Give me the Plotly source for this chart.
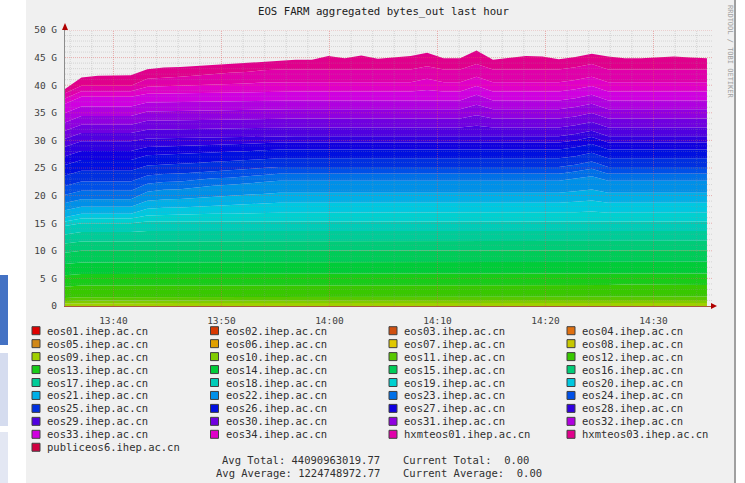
import pandas as pd
import plotly.graph_objects as go

# ---------------- data ----------------
SERIES_NAMES = [
    "eos01.ihep.ac.cn", "eos02.ihep.ac.cn", "eos03.ihep.ac.cn", "eos04.ihep.ac.cn",
    "eos05.ihep.ac.cn", "eos06.ihep.ac.cn", "eos07.ihep.ac.cn", "eos08.ihep.ac.cn",
    "eos09.ihep.ac.cn", "eos10.ihep.ac.cn", "eos11.ihep.ac.cn", "eos12.ihep.ac.cn",
    "eos13.ihep.ac.cn", "eos14.ihep.ac.cn", "eos15.ihep.ac.cn", "eos16.ihep.ac.cn",
    "eos17.ihep.ac.cn", "eos18.ihep.ac.cn", "eos19.ihep.ac.cn", "eos20.ihep.ac.cn",
    "eos21.ihep.ac.cn", "eos22.ihep.ac.cn", "eos23.ihep.ac.cn", "eos24.ihep.ac.cn",
    "eos25.ihep.ac.cn", "eos26.ihep.ac.cn", "eos27.ihep.ac.cn", "eos28.ihep.ac.cn",
    "eos29.ihep.ac.cn", "eos30.ihep.ac.cn", "eos31.ihep.ac.cn", "eos32.ihep.ac.cn",
    "eos33.ihep.ac.cn", "eos34.ihep.ac.cn", "hxmteos01.ihep.ac.cn", "hxmteos03.ihep.ac.cn",
    "publiceos6.ihep.ac.cn",
]

TIME_START = "2017-06-01 13:35:31"
TIME_END = "2017-06-01 14:34:57"
N_POINTS = 40
X_RANGE = ["2017-06-01 13:35:31", "2017-06-01 14:35:25"]
X_TICK_VALS = ["2017-06-01 13:40", "2017-06-01 13:50", "2017-06-01 14:00",
               "2017-06-01 14:10", "2017-06-01 14:20", "2017-06-01 14:30"]
X_TICK_TEXT = ["13:40", "13:50", "14:00", "14:10", "14:20", "14:30"]
Y_TICK_VALS = [0, 5, 10, 15, 20, 25, 30, 35, 40, 45, 50]
Y_TICK_TEXT = ["0", "5 G", "10 G", "15 G", "20 G", "25 G", "30 G", "35 G", "40 G", "45 G", "50 G"]

# values in G (bytes_out per host), 40 samples
ZERO = [0, 0, 0, 0, 0, 0, 0, 0, 0, 0, 0, 0, 0, 0, 0, 0, 0, 0, 0, 0,
        0, 0, 0, 0, 0, 0, 0, 0, 0, 0, 0, 0, 0, 0, 0, 0, 0, 0, 0, 0]
eos09 = [0.45, 0.5, 0.5, 0.5, 0.5, 0.55, 0.55, 0.55, 0.55, 0.55, 0.55, 0.55, 0.55,
         0.55, 0.55, 0.55, 0.55, 0.55, 0.55, 0.55, 0.55, 0.55, 0.55, 0.55, 0.55, 0.55, 0.55,
         0.55, 0.55, 0.55, 0.55, 0.55, 0.55, 0.55, 0.55, 0.55, 0.55, 0.55, 0.55, 0.55]
eos10 = [0.45, 0.5, 0.5, 0.5, 0.5, 0.55, 0.55, 0.55, 0.55, 0.55, 0.55, 0.55, 0.55,
         0.55, 0.55, 0.55, 0.55, 0.55, 0.55, 0.55, 0.55, 0.55, 0.55, 0.55, 0.55, 0.55, 0.55,
         0.55, 0.55, 0.55, 0.55, 0.55, 0.55, 0.55, 0.55, 0.55, 0.55, 0.55, 0.55, 0.55]
eos11 = [0.55, 0.6, 0.6, 0.6, 0.6, 0.6, 0.6, 0.6, 0.6, 0.6, 0.6, 0.6, 0.6,
         0.6, 0.6, 0.6, 0.6, 0.6, 0.6, 0.6, 0.6, 0.6, 0.6, 0.6, 0.6, 0.6, 0.6,
         0.6, 0.6, 0.6, 0.6, 0.6, 0.6, 0.6, 0.6, 0.6, 0.6, 0.6, 0.6, 0.6]
eos12 = [2.05, 2.1, 2.1, 2.1, 2.1, 2.1, 2.1, 2.1, 2.1, 2.1, 2.1, 2.1, 2.1,
         2.1, 2.1, 2.1, 2.1, 2.1, 2.1, 2.1, 2.1, 2.1, 2.1, 2.1, 2.1, 2.1, 2.1,
         2.1, 2.1, 2.1, 2.1, 2.1, 2.1, 2.1, 2.2, 2.2, 2.2, 2.2, 2.1, 2.1]
eos13 = [2.05, 2.1, 2.1, 2.1, 2.1, 2.1, 2.1, 2.1, 2.1, 2.1, 2.1, 2.1, 2.1,
         2.1, 2.1, 2.1, 2.1, 2.1, 2.1, 2.1, 2.1, 2.1, 2.1, 2.1, 2.1, 2.1, 2.1,
         2.1, 2.1, 2.1, 2.1, 2.1, 2.1, 2.1, 2.0, 2.0, 2.0, 2.0, 2.1, 2.1]
eos14 = [2.05, 2.1, 2.1, 2.1, 2.1, 2.1, 2.1, 2.1, 2.1, 2.1, 2.1, 2.1, 2.1,
         2.1, 2.1, 2.1, 2.1, 2.1, 2.1, 2.1, 2.1, 2.1, 2.1, 2.1, 2.1, 2.1, 2.1,
         2.1, 2.1, 2.1, 2.1, 2.1, 2.1, 2.1, 2.1, 2.1, 2.1, 2.1, 2.1, 2.1]
eos15 = [2.05, 2.1, 2.1, 2.1, 2.1, 2.1, 2.1, 2.1, 2.1, 2.1, 2.1, 2.1, 2.1,
         2.1, 2.1, 2.1, 2.1, 2.1, 2.1, 2.1, 2.1, 2.1, 2.1, 2.1, 2.1, 2.1, 2.1,
         2.1, 2.1, 2.1, 2.1, 2.1, 2.1, 2.1, 2.1, 2.1, 2.1, 2.1, 2.1, 2.1]
eos16 = [1.65, 1.7, 1.7, 1.7, 1.7, 1.7, 1.7, 1.7, 1.7, 1.7, 1.7, 1.7, 1.7,
         1.7, 1.7, 1.7, 1.7, 1.7, 1.7, 1.7, 1.7, 1.7, 1.7, 1.7, 1.7, 1.7, 1.7,
         1.6, 1.6, 1.6, 1.6, 1.7, 1.7, 1.7, 1.7, 1.7, 1.7, 1.7, 1.7, 1.7]
eos17 = [1.65, 1.7, 1.7, 1.7, 1.7, 1.8, 1.8, 1.8, 1.8, 1.8, 1.8, 1.8, 1.8,
         1.8, 1.8, 1.8, 1.8, 1.8, 1.8, 1.8, 1.8, 1.8, 1.8, 1.8, 1.8, 1.8, 1.8,
         1.9, 1.9, 1.9, 1.9, 1.8, 1.8, 1.8, 1.8, 1.8, 1.8, 1.8, 1.8, 1.8]
eos18 = [1.55, 1.6, 1.6, 1.6, 1.6, 1.7, 1.7, 1.7, 1.7, 1.7, 1.7, 1.7, 1.7,
         1.7, 1.7, 1.7, 1.7, 1.7, 1.7, 1.7, 1.7, 1.7, 1.7, 1.7, 1.7, 1.7, 1.7,
         1.7, 1.7, 1.7, 1.7, 1.7, 1.7, 1.7, 1.7, 1.7, 1.7, 1.7, 1.7, 1.7]
eos19 = [0.8, 0.85, 0.85, 0.85, 0.85, 1.1, 1.2, 1.25, 1.3, 1.4, 1.4, 1.5, 1.55,
         1.6, 1.6, 1.6, 1.6, 1.6, 1.6, 1.6, 1.6, 1.6, 1.6, 1.6, 1.6, 1.6, 1.6,
         1.6, 1.6, 1.6, 1.6, 1.7, 1.8, 1.6, 1.6, 1.6, 1.6, 1.6, 1.6, 1.6]
eos20 = [0.8, 0.85, 0.85, 0.85, 0.85, 1.2, 1.3, 1.3, 1.4, 1.5, 1.55, 1.65, 1.7,
         1.8, 1.8, 1.8, 1.8, 1.8, 1.8, 1.8, 1.8, 1.8, 1.8, 1.8, 1.8, 1.8, 1.8,
         1.8, 1.8, 1.8, 1.8, 1.9, 2.0, 1.8, 1.8, 1.8, 1.8, 1.8, 1.8, 1.8]
eos21 = [1.25, 1.3, 1.3, 1.3, 1.3, 1.45, 1.5, 1.55, 1.6, 1.65, 1.7, 1.7, 1.75,
         1.8, 1.8, 1.8, 1.8, 1.8, 1.8, 1.8, 1.8, 1.8, 1.8, 1.8, 1.8, 1.8, 1.8,
         1.8, 1.8, 1.8, 1.8, 1.9, 2.0, 1.8, 1.8, 1.8, 1.8, 1.8, 1.8, 1.8]
eos22 = [1.3, 1.35, 1.35, 1.35, 1.35, 1.65, 1.75, 1.75, 1.85, 1.95, 2.0, 2.05, 2.1,
         2.2, 2.2, 2.2, 2.2, 2.2, 2.2, 2.2, 2.2, 2.2, 2.2, 2.2, 2.2, 2.2, 2.2,
         2.2, 2.2, 2.2, 2.2, 2.3, 2.4, 2.2, 2.2, 2.2, 2.2, 2.2, 2.2, 2.2]
eos23 = [1.5, 1.55, 1.55, 1.55, 1.55, 1.45, 1.4, 1.4, 1.35, 1.35, 1.3, 1.3, 1.3,
         1.25, 1.25, 1.25, 1.25, 1.25, 1.25, 1.25, 1.25, 1.25, 1.25, 1.25, 1.25, 1.25, 1.25,
         1.25, 1.25, 1.25, 1.25, 1.25, 1.35, 1.25, 1.25, 1.25, 1.25, 1.25, 1.25, 1.25]
eos24 = [1.6, 1.65, 1.65, 1.65, 1.65, 1.5, 1.45, 1.45, 1.4, 1.35, 1.35, 1.3, 1.3,
         1.25, 1.25, 1.25, 1.25, 1.25, 1.25, 1.25, 1.25, 1.25, 1.25, 1.25, 1.25, 1.25, 1.25,
         1.25, 1.25, 1.25, 1.25, 1.25, 1.35, 1.25, 1.25, 1.25, 1.25, 1.25, 1.25, 1.25]
eos25 = [1.9, 1.95, 1.95, 1.95, 1.95, 1.8, 1.75, 1.75, 1.7, 1.65, 1.65, 1.6, 1.6,
         1.55, 1.55, 1.55, 1.55, 1.65, 1.65, 1.65, 1.65, 1.55, 1.55, 1.55, 1.55, 1.55, 1.55,
         1.55, 1.55, 1.55, 1.55, 1.55, 1.55, 1.55, 1.55, 1.55, 1.55, 1.55, 1.55, 1.55]
eos26 = [1.9, 1.95, 1.95, 1.95, 1.95, 1.85, 1.8, 1.8, 1.75, 1.7, 1.7, 1.65, 1.65,
         1.6, 1.6, 1.6, 1.6, 1.5, 1.5, 1.5, 1.5, 1.6, 1.6, 1.6, 1.6, 1.6, 1.6,
         1.6, 1.6, 1.6, 1.6, 1.6, 1.6, 1.6, 1.6, 1.6, 1.6, 1.6, 1.6, 1.6]
eos27 = [1.6, 1.65, 1.65, 1.65, 1.65, 1.5, 1.45, 1.45, 1.4, 1.35, 1.35, 1.3, 1.3,
         1.25, 1.25, 1.25, 1.25, 1.25, 1.25, 1.25, 1.25, 1.25, 1.25, 1.25, 1.25, 1.25, 1.25,
         1.25, 1.25, 1.25, 1.25, 1.25, 1.25, 1.25, 1.25, 1.25, 1.25, 1.25, 1.25, 1.25]
eos28 = [1.7, 1.75, 1.75, 1.75, 1.75, 1.55, 1.5, 1.45, 1.4, 1.35, 1.3, 1.25, 1.2,
         1.15, 1.15, 1.15, 1.15, 1.15, 1.15, 1.15, 1.15, 1.15, 1.15, 1.15, 1.15, 1.15, 1.15,
         1.15, 1.15, 1.15, 1.15, 1.15, 1.15, 1.15, 1.15, 1.15, 1.15, 1.15, 1.15, 1.15]
eos29 = [1.45, 1.5, 1.5, 1.5, 1.5, 1.6, 1.6, 1.6, 1.6, 1.6, 1.6, 1.6, 1.6,
         1.6, 1.6, 1.6, 1.6, 1.6, 1.6, 1.6, 1.6, 1.6, 1.6, 1.6, 1.6, 1.9, 1.6,
         1.6, 1.6, 1.6, 1.6, 1.6, 1.6, 1.6, 1.6, 1.6, 1.6, 1.6, 1.6, 1.6]
eos30 = [1.45, 1.5, 1.5, 1.5, 1.5, 1.6, 1.6, 1.6, 1.6, 1.6, 1.6, 1.6, 1.6,
         1.6, 1.6, 1.6, 1.6, 1.6, 1.6, 1.6, 1.6, 1.6, 1.6, 1.6, 1.6, 1.9, 1.6,
         1.6, 1.6, 1.6, 1.6, 1.6, 1.6, 1.6, 1.6, 1.6, 1.6, 1.6, 1.6, 1.6]
eos31 = [1.5, 1.55, 1.55, 1.55, 1.55, 1.7, 1.7, 1.7, 1.7, 1.7, 1.7, 1.7, 1.7,
         1.7, 1.7, 1.7, 1.7, 1.7, 1.7, 1.7, 1.7, 1.7, 1.7, 1.7, 1.7, 1.9, 1.7,
         1.7, 1.7, 1.7, 1.7, 1.7, 1.7, 1.7, 1.7, 1.7, 1.7, 1.7, 1.7, 1.7]
eos32 = [1.7, 1.75, 1.75, 1.75, 1.75, 1.6, 1.6, 1.6, 1.6, 1.6, 1.6, 1.6, 1.6,
         1.6, 1.6, 1.6, 1.6, 1.6, 1.6, 1.6, 1.6, 1.6, 1.6, 1.6, 1.6, 1.8, 1.6,
         1.6, 1.6, 1.6, 1.6, 1.6, 1.6, 1.6, 1.6, 1.6, 1.6, 1.6, 1.6, 1.6]
eos33 = [1.7, 1.75, 1.75, 1.75, 1.75, 1.6, 1.6, 1.6, 1.6, 1.6, 1.6, 1.6, 1.6,
         1.6, 1.6, 1.6, 1.6, 1.6, 1.6, 1.6, 1.6, 1.6, 1.9, 1.6, 1.6, 1.6, 1.6,
         1.6, 1.6, 1.6, 1.6, 1.6, 1.6, 1.6, 1.6, 1.6, 1.6, 1.6, 1.6, 1.6]
eos34 = [0.95, 1.0, 1.0, 1.0, 1.0, 1.25, 1.3, 1.35, 1.4, 1.5, 1.55, 1.6, 1.65,
         1.7, 1.7, 1.7, 1.7, 1.7, 1.7, 1.7, 1.7, 1.7, 2.0, 1.7, 1.7, 1.7, 1.7,
         1.7, 1.7, 1.7, 1.7, 1.7, 1.7, 1.7, 1.7, 1.7, 1.7, 1.7, 1.7, 1.7]
hxmteos01 = [0.95, 1.0, 1.0, 1.0, 1.0, 1.45, 1.6, 1.65, 1.8, 1.9, 2.0, 2.1, 2.2,
             2.3, 2.3, 2.3, 2.3, 2.3, 2.3, 2.3, 2.3, 2.3, 2.3, 2.3, 2.3, 2.3, 2.3,
             2.3, 2.3, 2.3, 2.3, 2.3, 2.3, 2.3, 2.3, 2.3, 2.3, 2.3, 2.3, 2.3]
hxmteos03 = [0.75, 1.5, 1.8, 1.8, 1.9, 1.75, 1.8, 1.75, 1.75, 1.65, 1.65, 1.7, 1.6,
             1.65, 1.75, 1.75, 2.45, 2.05, 2.55, 1.95, 2.15, 2.45, 2.45, 2.05, 2.05, 2.45, 1.75,
             2.05, 2.45, 2.35, 1.85, 1.85, 1.85, 2.35, 2.05, 2.05, 2.25, 2.35, 2.15, 2.05]

SERIES_VALUES = [ZERO, ZERO, ZERO, ZERO, ZERO, ZERO, ZERO, ZERO,
                 eos09, eos10, eos11, eos12, eos13, eos14, eos15, eos16,
                 eos17, eos18, eos19, eos20, eos21, eos22, eos23, eos24,
                 eos25, eos26, eos27, eos28, eos29, eos30, eos31, eos32,
                 eos33, eos34, hxmteos01, hxmteos03, ZERO]

TITLE = "EOS FARM aggregated bytes_out last hour"
STATS_LEFT = ["Avg Total: 44090963019.77", "Avg Average: 1224748972.77"]
STATS_RIGHT = ["Current Total:\u00a0 0.00", "Current Average:\u00a0 0.00"]
WATERMARK = "RRDTOOL / TOBI OETIKER"

# ---------------- styles ----------------
COLORS = [
    "#e00000", "#d83800", "#d05010", "#e07010", "#d08818", "#e0a000", "#e0c800", "#c8c800",
    "#a0d000", "#80cc00", "#58c800", "#38c800", "#18cc18", "#00cc38", "#00cc58", "#00cc78",
    "#00cc98", "#00ccb8", "#00d0d0", "#00c8e0", "#00b0e8", "#0090e8", "#0070e8", "#0050e8",
    "#0030e0", "#0010e0", "#1000e0", "#3000e0", "#5000e0", "#7000e0", "#9000e0", "#b000e0",
    "#d000e0", "#e000c8", "#e000aa", "#e0008c", "#d00040",
]
MONO = "DejaVu Sans Mono"
W, H = 745, 483
PL, PR, PT, PB = 65, 712, 30, 306


def px(x):
    return (x - PL) / (PR - PL)


def py(y):
    return (PB - y) / (PB - PT)


times = pd.date_range(TIME_START, TIME_END, periods=N_POINTS)

fig = go.Figure()
for name, vals, col in zip(SERIES_NAMES, SERIES_VALUES, COLORS):
    fig.add_trace(go.Scatter(
        x=times, y=vals, name=name, stackgroup="one", mode="lines",
        line=dict(width=0, color=col), fillcolor=col,
        showlegend=False, hoverinfo="skip",
    ))

shapes = []
# panel background and page decorations
shapes.append(dict(type="rect", xref="paper", yref="paper", x0=px(26), x1=px(734),
                   y0=py(483), y1=py(0), fillcolor="#f0f0f0", line=dict(width=0), layer="below"))
shapes.append(dict(type="line", xref="paper", yref="paper", x0=px(735), x1=px(735),
                   y0=py(483), y1=py(0), line=dict(color="#a0a0a0", width=2), layer="below"))
for (yy0, yy1, fc) in [(275, 345, "#4472c4"), (353, 426, "#d5dcef"), (432, 483, "#e3e7f3")]:
    shapes.append(dict(type="rect", xref="paper", yref="paper", x0=px(0), x1=px(8),
                       y0=py(yy1), y1=py(yy0), fillcolor=fc, line=dict(width=0), layer="below"))

# grid drawn above the areas (rrdtool style)
for g in range(1, 51):
    major = (g % 5 == 0)
    shapes.append(dict(type="line", xref="paper", yref="y", x0=0, x1=1, y0=g, y1=g,
                       line=dict(color="rgba(225,90,90,0.45)" if major else "rgba(150,150,150,0.3)",
                                 width=1, dash="1px,1px"), layer="above"))
for t in pd.date_range("2017-06-01 13:36", "2017-06-01 14:34", freq="2min"):
    major = (t.minute % 10 == 0)
    shapes.append(dict(type="line", xref="x", yref="paper", x0=t, x1=t, y0=0, y1=1,
                       line=dict(color="rgba(225,90,90,0.45)" if major else "rgba(150,150,150,0.3)",
                                 width=1, dash="1px,1px"), layer="above"))

# axis arrows
shapes.append(dict(type="path", xref="paper", yref="paper",
                   path=f"M {px(62)} {py(30)} L {px(68)} {py(30)} L {px(65)} {py(23)} Z",
                   fillcolor="#b00000", line=dict(width=0), layer="above"))
shapes.append(dict(type="path", xref="paper", yref="paper",
                   path=f"M {px(711)} {py(303)} L {px(711)} {py(309)} L {px(717)} {py(306)} Z",
                   fillcolor="#b00000", line=dict(width=0), layer="above"))

annotations = []
annotations.append(dict(text=TITLE, xref="paper", yref="paper", x=px(384), y=py(12),
                        xanchor="center", yanchor="middle", showarrow=False,
                        font=dict(family=MONO, size=10.7, color="#202020")))
annotations.append(dict(text=WATERMARK, xref="paper", yref="paper", x=px(730), y=py(52),
                        xanchor="center", yanchor="middle", showarrow=False, textangle=90,
                        font=dict(family=MONO, size=7, color="#a0a0a0")))

# legend (rrdtool style, 4 columns)
COL_X = [32, 210.5, 389, 567]
ROW_Y0, ROW_DY = 330.7, 12.95
for i, (name, col) in enumerate(zip(SERIES_NAMES, COLORS)):
    c, r = i % 4, i // 4
    x0 = COL_X[c]
    yc = ROW_Y0 + r * ROW_DY
    shapes.append(dict(type="rect", xref="paper", yref="paper", x0=px(x0), x1=px(x0 + 8),
                       y0=py(yc + 4), y1=py(yc - 4), fillcolor=col,
                       line=dict(color="#404040", width=1), layer="above"))
    annotations.append(dict(text=name, xref="paper", yref="paper", x=px(x0 + 13), y=py(yc),
                            xanchor="left", yanchor="middle", showarrow=False,
                            font=dict(family=MONO, size=10.5, color="#303030")))

for j in range(2):
    yc = ROW_Y0 + (10 + j) * ROW_DY
    annotations.append(dict(text=STATS_LEFT[j], xref="paper", yref="paper", x=px(382), y=py(yc),
                            xanchor="right", yanchor="middle", showarrow=False,
                            font=dict(family=MONO, size=10.5, color="#303030")))
    annotations.append(dict(text=STATS_RIGHT[j], xref="paper", yref="paper", x=px(401), y=py(yc),
                            xanchor="left", yanchor="middle", showarrow=False,
                            font=dict(family=MONO, size=10.5, color="#303030")))

fig.update_layout(
    width=W, height=H, autosize=False,
    margin=dict(l=PL, r=W - PR, t=PT, b=H - PB, pad=0),
    paper_bgcolor="#ffffff", plot_bgcolor="#ffffff",
    font=dict(family=MONO, size=10, color="#404040"),
    showlegend=False,
    shapes=shapes, annotations=annotations,
    xaxis=dict(type="date", range=X_RANGE, tickvals=X_TICK_VALS, ticktext=X_TICK_TEXT,
               showgrid=False, zeroline=False, showline=True, linecolor="#a85a3c", linewidth=1,
               ticks="outside", ticklen=6, tickcolor="rgba(0,0,0,0)",
               tickfont=dict(family=MONO, size=9.5, color="#404040"), fixedrange=True),
    yaxis=dict(range=[0, 50], tickvals=Y_TICK_VALS, ticktext=Y_TICK_TEXT,
               showgrid=False, zeroline=False, showline=True, linecolor="#8c8c8c", linewidth=1,
               ticks="outside", ticklen=5, tickcolor="rgba(0,0,0,0)",
               tickfont=dict(family=MONO, size=9.5, color="#404040"), fixedrange=True),
)

fig.write_html(
    "out.html",
    config={"displayModeBar": False, "staticPlot": True},
    post_script="document.body.style.margin='0px';document.body.style.overflow='hidden';",
)
